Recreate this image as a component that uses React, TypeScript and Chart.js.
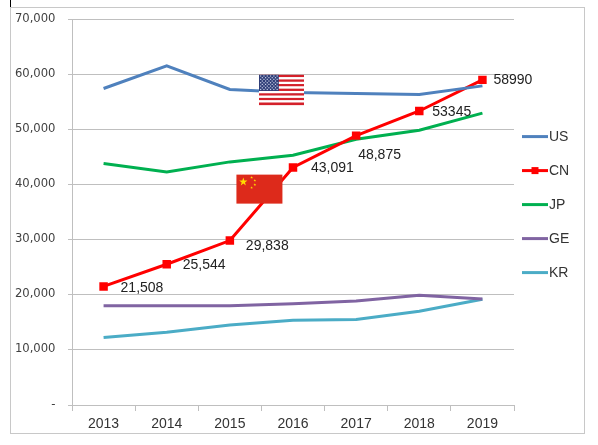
import React, { useEffect, useRef } from "react";
import { Chart, registerables } from "chart.js";

Chart.register(...registerables);

const years = ["2013", "2014", "2015", "2016", "2017", "2018", "2019"];
const usValues = [57430, 61530, 57250, 56700, 56520, 56340, 57900];
const cnValues = [21508, 25544, 29838, 43091, 48875, 53345, 58990];
const jpValues = [43820, 42300, 44110, 45330, 48230, 49860, 52950];
const geValues = [18000, 18000, 18000, 18380, 18890, 19920, 19250];
const krValues = [12250, 13200, 14500, 15390, 15510, 17020, 19200];
const cnLabels = ["21,508", "25,544", "29,838", "43,091", "48,875", "53345", "58990"];
const yTicks = [0, 10000, 20000, 30000, 40000, 50000, 60000, 70000];
const yTickLabels = ["-", "10,000", "20,000", "30,000", "40,000", "50,000", "60,000", "70,000"];

// label placement offsets (dx, dy) relative to each CN point
const labelOffsets: [number, number][] = [
  [17, 2], [16, 1], [16, 6], [18, 1], [2, 20], [13, 1], [11, 0],
];

const FONT = "'Liberation Sans', Arial, sans-serif";
const TICK_FONT = "'DejaVu Sans', Verdana, sans-serif";

function drawUSFlag(ctx: CanvasRenderingContext2D, x: number, y: number, w: number, h: number) {
  const sh = h / 13;
  for (let i = 0; i < 13; i++) {
    ctx.fillStyle = i % 2 === 0 ? "#d4202a" : "#ffffff";
    ctx.fillRect(x, y + i * sh, w, sh + 0.3);
  }
  const cw = w * 0.44;
  const ch = sh * 7;
  ctx.fillStyle = "#2f3e78";
  ctx.fillRect(x, y, cw, ch);
  ctx.fillStyle = "#c9cfe6";
  for (let r = 0; r < 9; r++) {
    const n = r % 2 === 0 ? 6 : 5;
    for (let c = 0; c < n; c++) {
      const sx = x + (c + (r % 2 === 0 ? 0.5 : 1)) * (cw / 6);
      const sy = y + (r + 0.7) * (ch / 9.6);
      ctx.fillRect(sx - 0.6, sy - 0.6, 1.2, 1.2);
    }
  }
}

function star(ctx: CanvasRenderingContext2D, cx: number, cy: number, r: number) {
  ctx.beginPath();
  for (let i = 0; i < 10; i++) {
    const rr = i % 2 === 0 ? r : r * 0.4;
    const a = -Math.PI / 2 + (i * Math.PI) / 5;
    const px = cx + rr * Math.cos(a);
    const py = cy + rr * Math.sin(a);
    if (i === 0) ctx.moveTo(px, py);
    else ctx.lineTo(px, py);
  }
  ctx.closePath();
  ctx.fill();
}

function drawCNFlag(ctx: CanvasRenderingContext2D, x: number, y: number, w: number, h: number) {
  ctx.fillStyle = "#dd2a1b";
  ctx.fillRect(x, y, w, h);
  ctx.fillStyle = "#ffde00";
  star(ctx, x + w * 0.15, y + h * 0.25, h * 0.15);
  star(ctx, x + w * 0.33, y + h * 0.1, h * 0.05);
  star(ctx, x + w * 0.4, y + h * 0.2, h * 0.05);
  star(ctx, x + w * 0.4, y + h * 0.35, h * 0.05);
  star(ctx, x + w * 0.33, y + h * 0.45, h * 0.05);
}

const decorPlugin = {
  id: "decor",
  beforeDraw(chart: any) {
    const ctx = chart.ctx as CanvasRenderingContext2D;
    ctx.save();
    ctx.fillStyle = "#ffffff";
    ctx.fillRect(0, 0, chart.width, chart.height);
    ctx.strokeStyle = "#c8c8c8";
    ctx.lineWidth = 1;
    ctx.strokeRect(10.5, 7.5, 574, 426);
    ctx.strokeStyle = "#000000";
    ctx.beginPath();
    ctx.moveTo(10.5, 0);
    ctx.lineTo(10.5, 7);
    ctx.stroke();
    ctx.restore();
  },
  afterDraw(chart: any) {
    // y-axis tick labels
    const ctx = chart.ctx as CanvasRenderingContext2D;
    const ys = chart.scales.y;
    ctx.save();
    ctx.font = `11.6px ${TICK_FONT}`;
    ctx.fillStyle = "#404040";
    ctx.textAlign = "right";
    ctx.textBaseline = "middle";
    yTicks.forEach((v, i) => {
      ctx.fillText(yTickLabels[i], chart.chartArea.left - 16.5, ys.getPixelForValue(v) - 0.5);
    });
    ctx.restore();
  },
  afterDatasetsDraw(chart: any) {
    const ctx = chart.ctx as CanvasRenderingContext2D;
    const xs = chart.scales.x;
    const ys = chart.scales.y;
    ctx.save();
    const x15 = xs.getPixelForValue(2);
    const x16 = xs.getPixelForValue(3);
    drawUSFlag(ctx, x16 - 34, ys.getPixelForValue(60000) + 0.5, 45, 30);
    drawCNFlag(ctx, (x15 + x16) / 2 - 25, ys.getPixelForValue(41800), 46, 29);

    const meta = chart.getDatasetMeta(1);
    ctx.font = `14px ${FONT}`;
    ctx.fillStyle = "#222222";
    ctx.textBaseline = "middle";
    ctx.textAlign = "left";
    meta.data.forEach((pt: any, i: number) => {
      const [dx, dy] = labelOffsets[i];
      ctx.fillText(cnLabels[i], pt.x + dx, pt.y + dy);
    });

    const lx = chart.chartArea.right + 8;
    const ly0 = ys.getPixelForValue(48700);
    chart.data.datasets.forEach((ds: any, i: number) => {
      const yy = ly0 + i * 34;
      ctx.strokeStyle = ds.borderColor;
      ctx.lineWidth = 3;
      ctx.beginPath();
      ctx.moveTo(lx, yy);
      ctx.lineTo(lx + 26, yy);
      ctx.stroke();
      if (ds.pointRadius > 0) {
        ctx.fillStyle = ds.borderColor;
        ctx.fillRect(lx + 9.5, yy - 3.5, 7, 7);
      }
      ctx.fillStyle = "#333333";
      ctx.font = `14px ${FONT}`;
      ctx.fillText(ds.label, lx + 27, yy + 1);
    });
    ctx.restore();
  },
};

export default function App() {
  const ref = useRef<HTMLCanvasElement | null>(null);
  useEffect(() => {
    document.body.style.margin = "0";
    if (!ref.current) return;
    const mk = (label: string, data: number[], color: string, marker = false) => ({
      label,
      data,
      borderColor: color,
      backgroundColor: color,
      borderWidth: 3,
      pointRadius: marker ? 6 : 0,
      pointHoverRadius: marker ? 6 : 0,
      pointStyle: "rect" as const,
      pointBorderWidth: 0,
      tension: 0,
    });
    const chart = new Chart(ref.current, {
      type: "line",
      data: {
        labels: years,
        datasets: [
          mk("US", usValues, "#4f81bd"),
          mk("CN", cnValues, "#ff0000", true),
          mk("JP", jpValues, "#00b050"),
          mk("GE", geValues, "#8064a2"),
          mk("KR", krValues, "#4bacc6"),
        ],
      },
      options: {
        animation: false,
        responsive: true,
        maintainAspectRatio: false,
        layout: { padding: { left: 0, right: 84, top: 19, bottom: 0 } },
        plugins: { legend: { display: false }, tooltip: { enabled: false } },
        scales: {
          x: {
            offset: true,
            grid: {
              offset: true,
              drawOnChartArea: false,
              drawTicks: true,
              tickLength: 6,
              color: "#bfbfbf",
            },
            border: { display: true, color: "#bfbfbf", width: 1 },
            ticks: {
              color: "#333333",
              font: { family: FONT, size: 14 },
              padding: 5,
              maxRotation: 0,
            },
            afterFit: (s: any) => {
              s.height = 40;
            },
          },
          y: {
            min: 0,
            max: 70000,
            afterBuildTicks: (s: any) => {
              s.ticks = yTicks.map((v) => ({ value: v }));
            },
            grid: { color: "#bfbfbf", tickLength: 4, lineWidth: 1 },
            border: { display: true, color: "#bfbfbf" },
            ticks: {
              color: "rgba(0,0,0,0)",
              font: { family: TICK_FONT, size: 12 },
              padding: 12,
            },
            afterFit: (s: any) => {
              s.width = 72;
            },
          },
        },
      },
      plugins: [decorPlugin],
    });
    return () => chart.destroy();
  }, []);
  return (
    <div style={{ position: "fixed", left: 0, top: 0, width: 598, height: 445 }}>
      <canvas ref={ref} />
    </div>
  );
}
